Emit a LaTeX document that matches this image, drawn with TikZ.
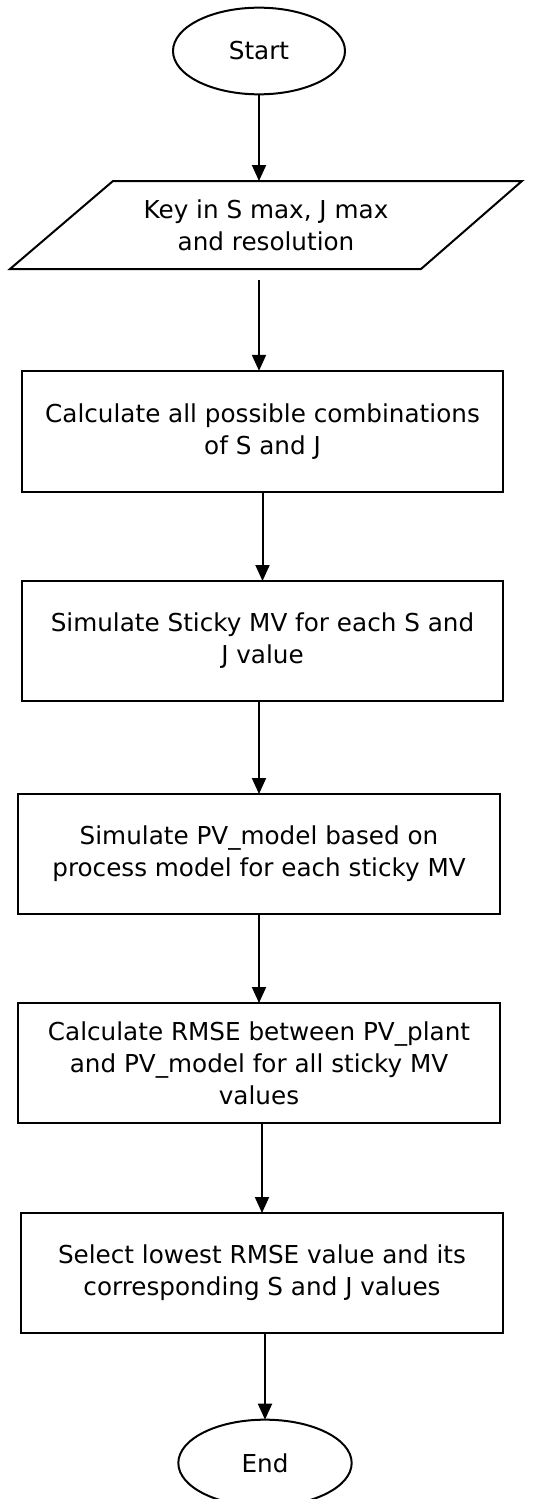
\documentclass[tikz,border=0pt]{standalone}
\usepackage{fontspec}
\setmainfont{DejaVu Sans}
\usetikzlibrary{shapes.geometric,arrows.meta}
\tikzset{
  base/.style={draw=black, line width=1.5pt, align=center, font=\fontsize{18.5pt}{24pt}\selectfont, inner sep=0pt, outer sep=0pt},
  termbox/.style={base, ellipse},
  iotext/.style={base, draw=none, rectangle},
  ioshape/.style={draw=black, line width=1.5pt, line join=miter},
  procbox/.style={base, rectangle},
  conn/.style={line width=1.5pt, -{Triangle[length=12pt,width=10.5pt]}}
}
\begin{document}
\begin{tikzpicture}[x=0.75pt,y=-0.75pt]
\useasboundingbox (0,0) rectangle (560,1499);
\node[termbox, minimum width=129pt, minimum height=65pt] (start) at (259,51) {Start};
\node[iotext, minimum width=384pt, minimum height=66pt] (key) at (266,225) {Key in S max, J max\\and resolution};
\draw[ioshape] ([xshift=77.25pt]key.north west) -- (key.north east) -- ([xshift=-75.75pt]key.south east) -- (key.south west) -- cycle;
\node[procbox, minimum width=361pt, minimum height=91pt] (r1) at (262.5,431.5) {Calculate all possible combinations\\of S and J};
\node[procbox, minimum width=361pt, minimum height=90pt] (r2) at (262.5,641) {Simulate Sticky MV for each S and\\J value};
\node[procbox, minimum width=361.5pt, minimum height=90pt] (r3) at (259,854) {Simulate PV\_model based on\\process model for each sticky MV};
\node[procbox, minimum width=361.5pt, minimum height=90pt] (r4) at (259,1063) {Calculate RMSE between PV\_plant\\and PV\_model for all sticky MV\\values};
\node[procbox, minimum width=361.5pt, minimum height=90pt] (r5) at (262,1273) {Select lowest RMSE value and its\\corresponding S and J values};
\node[termbox, minimum width=130pt, minimum height=65pt] (end) at (265,1463) {End};
\draw[conn] (start.south) -- (start.south |- key.north);
\draw[conn, shorten <=8pt] (key.south -| start.south) -- (start.south |- r1.north);
\draw[conn] (r1.south) -- (r2.north);
\draw[conn] (r2.south -| r3.north) -- (r3.north);
\draw[conn] (r3.south) -- (r4.north);
\draw[conn] (r4.south -| r5.north) -- (r5.north);
\draw[conn] (r5.south -| end.north) -- (end.north);
\end{tikzpicture}
\end{document}
